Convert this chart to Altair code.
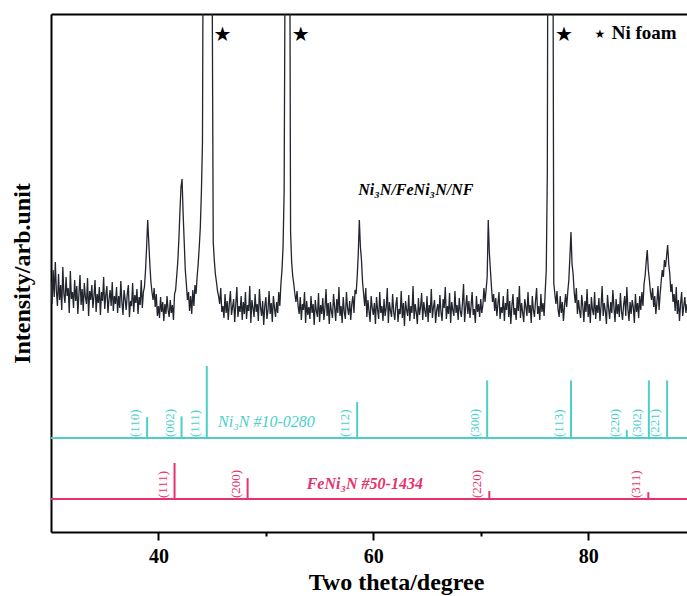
import altair as alt
import pandas as pd

SERIF = "Times New Roman, Liberation Serif, serif"
TURQ = "#4ccfcb"
PINK = "#e6336b"
INK = "#22252e"

# XRD scan of Ni3N/FeNi3N/NF, 30.0-89.2 deg at 0.1 deg steps (arb. units)
xrd_30_36 = [
    250, 228, 262, 235, 270, 241, 226, 258, 232, 247,
    222, 265, 238, 229, 255, 236, 244, 219, 261, 233,
    240, 224, 252, 231, 246, 218, 238, 257, 227, 243,
    221, 249, 235, 228, 254, 216, 241, 232, 247, 224,
    236, 252, 220, 238, 229, 245, 217, 240, 231, 255,
    223, 237, 246, 219, 233, 242, 226, 250, 221, 236,
]
xrd_36_42 = [
    228, 245, 219, 236, 224, 251, 230, 217, 242, 233,
    222, 238, 247, 215, 231, 226, 249, 220, 237, 229,
    243, 218, 235, 227, 252, 224, 240, 245, 262, 285,
    312, 290, 268, 250, 240, 232, 244, 225, 238, 216,
    226, 214, 235, 220, 230, 211, 228, 218, 236, 222,
    215, 232, 219, 227, 212, 238, 242, 256, 270, 292,
]
xrd_42_48 = [
    320, 345, 353, 318, 290, 262, 248, 232, 240, 221,
    236, 218, 242, 226, 247, 238, 255, 268, 285, 305,
    340, 390, 720, 1100, 1300, 1380, 1300, 1150, 950, 760,
    560, 290, 272, 258, 250, 241, 236, 228, 244, 220,
    226, 214, 238, 219, 231, 212, 229, 241, 217, 225,
    233, 210, 228, 245, 215, 226, 220, 236, 212, 230,
]
xrd_48_54 = [
    218, 240, 213, 227, 221, 246, 209, 232, 224, 215,
    238, 220, 228, 211, 243, 225, 216, 231, 207, 226,
    235, 213, 222, 241, 218, 229, 210, 236, 224, 215,
    230, 219, 240, 226, 248, 262, 285, 340, 600, 1200,
    1400, 1100, 700, 300, 270, 256, 248, 238, 230, 241,
    226, 218, 235, 212, 228, 222, 240, 209, 231, 217,
]
xrd_54_60 = [
    225, 213, 236, 219, 228, 207, 232, 221, 215, 239,
    210, 227, 218, 234, 212, 224, 243, 216, 229, 208,
    230, 221, 214, 238, 225, 211, 233, 219, 245, 216,
    226, 209, 235, 220, 213, 240, 224, 217, 231, 212,
    228, 236, 219, 242, 238, 255, 278, 312, 285, 272,
    250, 238, 226, 244, 215, 232, 221, 210, 236, 224,
]
xrd_60_66 = [
    217, 229, 208, 235, 222, 213, 240, 219, 226, 211,
    233, 216, 224, 244, 209, 230, 221, 215, 238, 220,
    212, 227, 235, 210, 223, 218, 241, 214, 229, 206,
    231, 222, 216, 237, 211, 226, 219, 246, 213, 228,
    220, 208, 234, 217, 225, 239, 212, 230, 221, 215,
    236, 210, 227, 219, 243, 214, 225, 232, 209, 222,
]
xrd_66_72 = [
    228, 215, 237, 220, 211, 233, 224, 245, 213, 226,
    218, 239, 209, 230, 222, 216, 241, 219, 227, 212,
    234, 221, 215, 229, 248, 210, 225, 237, 218, 231,
    214, 226, 240, 217, 223, 209, 236, 220, 228, 215,
    233, 219, 227, 244, 230, 242, 255, 312, 280, 262,
    245, 230, 238, 221, 234, 216, 228, 240, 213, 225,
]
xrd_72_78 = [
    219, 236, 211, 229, 222, 243, 215, 231, 208, 226,
    238, 217, 224, 212, 235, 221, 246, 214, 229, 220,
    210, 233, 225, 216, 240, 219, 227, 209, 236, 222,
    215, 231, 244, 218, 226, 212, 238, 220, 229, 216,
    240, 262, 360, 900, 1500, 1700, 1300, 700, 249, 238,
    228, 241, 222, 215, 236, 219, 230, 211, 226, 238,
]
xrd_78_84 = [
    225, 240, 252, 275, 300, 268, 258, 240, 229, 244,
    218, 232, 221, 214, 237, 226, 210, 231, 220, 243,
    215, 228, 209, 235, 222, 217, 240, 213, 227, 219,
    234, 211, 226, 246, 216, 229, 221, 208, 237, 224,
    213, 230, 219, 242, 225, 210, 233, 218, 228, 215,
    239, 221, 212, 227, 236, 216, 245, 223, 211, 230,
]
xrd_84_89 = [
    218, 232, 225, 209, 238, 220, 229, 214, 236, 222,
    240, 226, 248, 256, 270, 282, 262, 252, 240, 232,
    244, 225, 236, 218, 230, 246, 222, 238, 251, 262,
    255, 272, 265, 276, 287, 268, 258, 240, 248, 230,
    238, 221, 245, 218, 232, 211, 228, 240, 216, 226,
    235, 219, 228,
]

# Reference patterns (relative intensity, %)
ni3n_pos = [38.95, 42.15, 44.5, 58.5, 70.6, 78.4, 83.6, 85.65, 87.35]
ni3n_rel = [29, 30, 100, 50, 80, 80, 11, 80, 80]
ni3n_hkl = ["(110)", "(002)", "(111)", "(112)", "(300)", "(113)", "(220)", "(302)", "(221)"]

feni3n_pos = [41.5, 48.3, 70.8, 85.6]
feni3n_rel = [100, 58, 22, 19]
feni3n_hkl = ["(111)", "(200)", "(220)", "(311)"]

# Ni foam reflections marked with stars
star_pos = [45.95, 53.25, 77.75]

X_MIN, X_MAX = 30, 89.2
Y_MAX = 518

intensity = (xrd_30_36 + xrd_36_42 + xrd_42_48 + xrd_48_54 + xrd_54_60
             + xrd_60_66 + xrd_66_72 + xrd_72_78 + xrd_78_84 + xrd_84_89)
two_theta = [round(X_MIN + 0.1 * i, 1) for i in range(len(intensity))]
xrd = pd.DataFrame({"tt": two_theta, "I": intensity})

xscale = alt.Scale(domain=[X_MIN, X_MAX], nice=False, zero=False)
yscale = alt.Scale(domain=[0, Y_MAX], nice=False, zero=False)

y_axis = alt.Axis(
    ticks=False, labels=False, grid=False,
    domainColor="black", domainWidth=2,
    title="Intensity/arb.unit", titleFont=SERIF, titleFontSize=24,
    titleFontWeight="bold", titleColor="black",
    titleAngle=270, titleX=-22, titleY=259,
    titleBaseline="alphabetic", titleAlign="center",
)
main_x_axis = alt.Axis(
    values=[40, 60, 80], format="d", grid=False,
    tickSize=8, tickWidth=2, tickColor="black",
    domainColor="black", domainWidth=2,
    labelFont=SERIF, labelFontSize=20, labelFontWeight="bold", labelColor="black",
    labelBaseline="alphabetic", labelPadding=22,
    title="Two theta/degree", titleFont=SERIF, titleFontSize=24,
    titleFontWeight="bold", titleColor="black",
    titleX=345, titleY=57, titleBaseline="alphabetic", titleAlign="center",
)
minor_x_axis = alt.Axis(
    values=[50, 70], grid=False, labels=False, domain=False, title=None,
    tickSize=4, tickWidth=2, tickColor="black",
)
top_axis = alt.Axis(
    orient="top", grid=False, labels=False, ticks=False, title=None,
    domainColor="black", domainWidth=2,
)


def X(field, axis=None):
    return alt.X(field, type="quantitative", scale=xscale, axis=axis)


def Y(field):
    return alt.Y(field, type="quantitative", scale=yscale, axis=y_axis)


pattern = alt.Chart(xrd).mark_line(color=INK, strokeWidth=1.3, clip=True).encode(
    x=X("tt", main_x_axis), y=Y("I")
)

stars = alt.Chart(pd.DataFrame({"tt": star_pos, "y": [497] * len(star_pos)})).mark_text(
    text="★", font="DejaVu Sans", fontSize=20, color="black", baseline="middle"
).encode(x=X("tt"), y=Y("y"))

legend_star = alt.Chart(pd.DataFrame({"tt": [81.1], "y": [498]})).mark_text(
    text="★", font="DejaVu Sans", fontSize=12, color="black", baseline="middle"
).encode(x=X("tt"), y=Y("y"))

legend_text = alt.Chart(pd.DataFrame({"tt": [82.2], "y": [493]})).mark_text(
    text="Ni foam", font=SERIF, fontSize=19, fontWeight="bold", color="black",
    align="left", baseline="alphabetic"
).encode(x=X("tt"), y=Y("y"))

sample_label = alt.Chart(pd.DataFrame({"tt": [58.6], "y": [337]})).mark_text(
    text="Ni₃N/FeNi₃N/NF", font=SERIF, fontSize=16, fontWeight="bold",
    fontStyle="italic", color="black", align="left", baseline="alphabetic"
).encode(x=X("tt"), y=Y("y"))


def reference_layers(pos, rel, hkl, base, scale, color, name, name_x, name_y,
                     name_size, name_weight, axis=None):
    sticks = pd.DataFrame({
        "tt": pos,
        "y0": [base] * len(pos),
        "y1": [base + r * scale for r in rel],
        "hkl": hkl,
    })
    baseline = pd.DataFrame({"x0": [X_MIN], "x1": [X_MAX], "y": [base]})
    line = alt.Chart(baseline).mark_rule(color=color, strokeWidth=2).encode(
        x=X("x0", axis), x2="x1", y=Y("y")
    )
    bars = alt.Chart(sticks).mark_rule(color=color, strokeWidth=2).encode(
        x=X("tt"), y=Y("y0"), y2="y1"
    )
    labels = alt.Chart(sticks).mark_text(
        angle=270, align="left", baseline="alphabetic", dx=1, dy=-8,
        font=SERIF, fontSize=13, color=color
    ).encode(x=X("tt"), y=Y("y0"), text="hkl:N")
    title = alt.Chart(pd.DataFrame({"tt": [name_x], "y": [name_y]})).mark_text(
        text=name, font=SERIF, fontSize=name_size, fontStyle="italic",
        fontWeight=name_weight, color=color, align="left", baseline="middle"
    ).encode(x=X("tt"), y=Y("y"))
    return [line, bars, labels, title]


ni3n_layers = reference_layers(
    ni3n_pos, ni3n_rel, ni3n_hkl, 94, 0.72, TURQ,
    "Ni₃N #10-0280", 45.55, 110, 16, "normal", axis=top_axis,
)
feni3n_layers = reference_layers(
    feni3n_pos, feni3n_rel, feni3n_hkl, 33, 0.36, PINK,
    "FeNi₃N #50-1434", 53.8, 48, 16, "bold", axis=minor_x_axis,
)

chart = alt.layer(
    pattern, stars, legend_star, legend_text, sample_label,
    *ni3n_layers, *feni3n_layers,
).resolve_axis(x="independent").properties(
    width=636, height=518,
    padding={"left": 51, "top": 14, "right": 0, "bottom": 64},
    autosize="none",
    background="white",
).configure_view(stroke=None)

chart.save("out.html", embed_options={"renderer": "svg", "actions": False})
